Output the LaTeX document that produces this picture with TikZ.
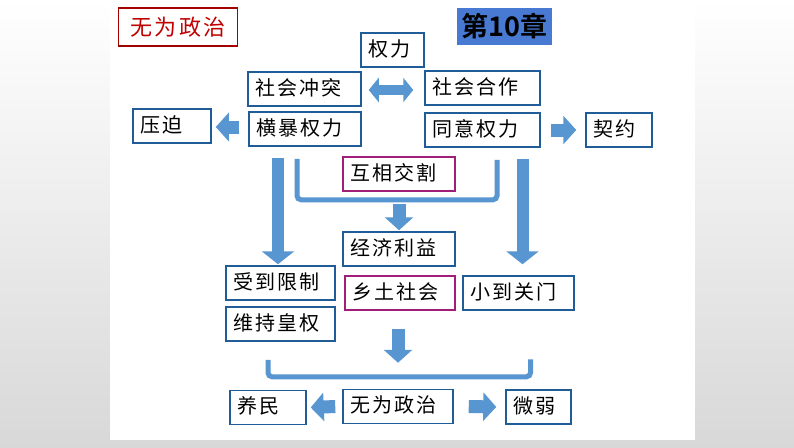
\documentclass[tikz,border=0pt]{standalone}
\usepackage{xcolor}
\usepackage{fontspec}
\usepackage{tikz}
\usetikzlibrary{arrows.meta, positioning, calc}
\newfontfamily\cjk[LetterSpace=10]{Noto Sans CJK SC}
\definecolor{boxblue}{RGB}{32,92,152}
\definecolor{boxpurple}{RGB}{160,30,120}
\definecolor{titlered}{RGB}{192,0,0}
\definecolor{arrowblue}{RGB}{88,150,210}
\definecolor{chapblue}{RGB}{72,122,212}
\definecolor{bggray}{RGB}{216,216,216}

\begin{document}
\begin{tikzpicture}[
				x=1pt, y=-1pt,
				box/.style={draw=boxblue, line width=1.5pt, fill=white, text width=#1, align=left,
					inner xsep=7pt, inner ysep=0pt, minimum height=34pt, text height=16pt, text depth=4pt,
					font=\cjk\fontsize{20}{24}\selectfont},
				pbox/.style={box=#1, draw=boxpurple},
				fat/.style={draw=arrowblue, line width=13pt, -{Triangle[width=28pt,length=13pt]}},
				tall/.style={draw=arrowblue, line width=12pt, -{Triangle[width=32pt,length=13pt]}},
				dbl/.style={draw=arrowblue, line width=10pt, {Triangle[width=24pt,length=10pt]}-{Triangle[width=24pt,length=10pt]}},
				bracket/.style={draw=arrowblue, line width=5pt, rounded corners=4pt}
				]
				% background
				\useasboundingbox (0,0) rectangle (794,447);
				\shade[top color=white, bottom color=bggray] (0,0) rectangle (794,447);
				\fill[white] (110,0) rectangle (695,440);
				% headings
				\node[draw=titlered!85!black, line width=1.5pt, minimum width=119pt, minimum height=38pt, inner sep=0pt,
					text=titlered, font=\cjk\fontsize{22}{26}\selectfont] (title) at (178,27) {无为政治};
				\node[fill=chapblue, minimum width=95pt, minimum height=37pt, inner sep=0pt,
					font=\fontspec{Noto Sans CJK SC Bold}\fontsize{27}{30}\selectfont] (chap) at (504.5,26.5) {第10章};
				% boxes
				\node[box=49pt] (ql) at (392.5,50) {权力};
				\node[box=99pt] (ct) at (304.5,89) {社会冲突};
				\node[box=101pt] (hz) at (482.5,88) {社会合作};
				\node[box=64pt] (yp) at (172,126) {压迫};
				\node[box=98pt] (hb) at (305,129) {横暴权力};
				\node[box=101pt] (ty) at (482.5,130) {同意权力};
				\node[box=52pt] (qy) at (619,130) {契约};
				\node[pbox=98pt] (hx) at (399,174) {互相交割};
				\node[box=98pt] (jj) at (399,249) {经济利益};
				\node[box=95pt] (sd) at (280.5,283) {受到限制};
				\node[pbox=96pt] (xt) at (400,293) {乡土社会};
				\node[box=97pt] (xd) at (518.5,293) {小到关门};
				\node[box=95pt] (wc) at (280.5,324) {维持皇权};
				\node[box=62pt] (ym) at (268,407.5) {养民};
				\node[box=96pt] (ww) at (398,406.5) {无为政治};
				\node[box=51pt] (wr) at (538.5,407) {微弱};
				% connectors
				\draw[dbl] ([xshift=7pt,yshift=-1pt]ct.east) -- ([xshift=-11pt,yshift=-2pt]hz.west);
				\draw[fat] ([xshift=-9pt,yshift=2pt]hb.west) -- ([xshift=4pt,yshift=-1pt]yp.east);
				\draw[fat] ([xshift=10pt]ty.east) -- ([xshift=-9pt]qy.west);
				\draw[tall] ([xshift=-27pt,yshift=-11pt]hb.south) -- ([xshift=-27pt,yshift=1pt]hb.south |- sd.north);
				\draw[tall] ([xshift=40pt,yshift=-11pt]ty.south) -- ([xshift=40pt,yshift=11pt]ty.south |- xd.north);
				\coordinate (b1) at ([yshift=-8pt]hx.south);
				\draw[bracket] ([xshift=-8pt,yshift=-12pt]hb.south) |- (b1) -| ([xshift=14.5pt,yshift=-12pt]ty.south);
				\draw[fat] ([yshift=-12pt]hx.south) -- ([yshift=1pt]jj.north);
				\coordinate (b2) at ([yshift=12pt]ww.north);
				\draw[bracket] ([yshift=30pt]ym.north) |- (b2) -| ([xshift=-8pt,yshift=30pt]wr.north);
				\draw[fat] ([xshift=-2pt,yshift=-18pt]xt.south) -- ([yshift=14pt]b2);
				\draw[fat] ([xshift=-7pt]ww.west) -- ([xshift=4pt]ym.east);
				\draw[fat] ([xshift=15pt]ww.east) -- ([xshift=-9pt]wr.west);
			\end{tikzpicture}
\end{document}
